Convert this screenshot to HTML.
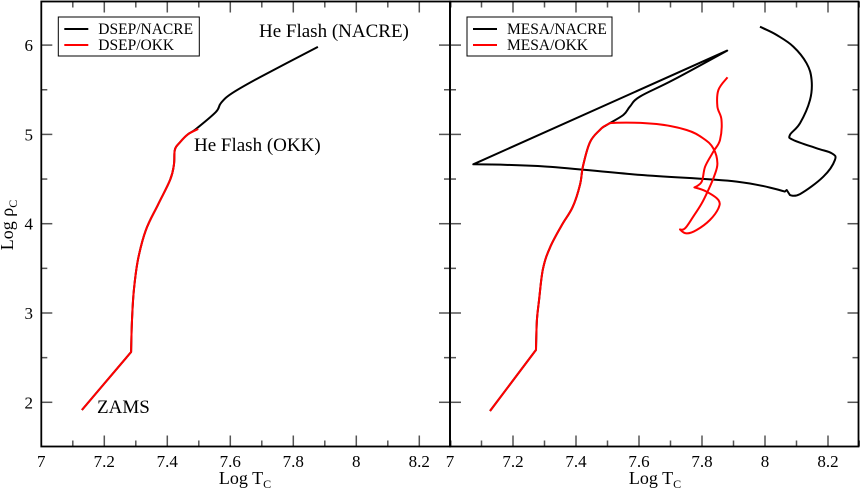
<!DOCTYPE html>
<html><head><meta charset="utf-8"><style>
body{margin:0;background:#fff}
svg{display:block}
text{font-family:"Liberation Serif","DejaVu Serif",serif;fill:#000}
</style></head><body>
<svg id="chart" width="860" height="492" viewBox="0 0 860 492" xmlns="http://www.w3.org/2000/svg">
<rect x="0" y="0" width="860" height="492" fill="#fff"/>
<g id="left"></g>
<g id="right"></g>
<text x="13" y="225" font-size="18" transform="rotate(-90 13 225)" text-anchor="middle">Log ρ<tspan font-size="12" dy="4">C</tspan></text>
<text x="245" y="484" font-size="18" text-anchor="middle">Log T<tspan font-size="12" dy="4">C</tspan></text>
<text x="655" y="484" font-size="18" text-anchor="middle">Log T<tspan font-size="12" dy="4">C</tspan></text>
<text x="259" y="37" font-size="19">He Flash (NACRE)</text>
<text x="194" y="151" font-size="19">He Flash (OKK)</text>
<text x="97" y="413" font-size="19">ZAMS</text>
</svg>
<script>
const xTicks=[7,7.2,7.4,7.6,7.8,8,8.2];
const yTicks=[2,3,4,5,6];
const dsepNacreT=[7.129,7.285,7.288,7.294,7.307,7.332,7.370,7.409,7.421,7.424,7.440,7.465,7.491,7.554,7.570,7.605,7.694,7.878];
const dsepNacreRho=[1.914,2.563,2.92,3.26,3.60,3.93,4.21,4.49,4.66,4.83,4.91,5.00,5.06,5.25,5.35,5.46,5.64,5.98];
const dsepOkkT=[7.129,7.285,7.288,7.294,7.307,7.332,7.370,7.409,7.421,7.424,7.440,7.465,7.498];
const dsepOkkRho=[1.914,2.563,2.92,3.26,3.60,3.93,4.21,4.49,4.66,4.83,4.91,5.00,5.06];
const mesaMsT=[7.127,7.273,7.276,7.283,7.295,7.317,7.356,7.390,7.413,7.422,7.444,7.476,7.497];
const mesaMsRho=[1.903,2.587,2.92,3.15,3.49,3.73,3.99,4.19,4.44,4.64,4.91,5.05,5.105];
const mesaNacreT=[7.550,7.571,7.603,7.709,7.880,7.074,7.307,7.603,7.910,8.063,8.069,8.079,8.111,8.185,8.222,8.212,8.164,8.090,8.079,8.111,8.143,8.148,8.132,8.090,8.037,7.995,7.984];
const mesaNacreRho=[5.217,5.311,5.423,5.610,5.938,4.665,4.639,4.546,4.471,4.359,4.377,4.321,4.332,4.526,4.713,4.788,4.844,4.937,4.993,5.124,5.385,5.609,5.796,5.983,6.113,6.188,6.206];
const mesaOkkT=[7.529,7.656,7.751,7.804,7.836,7.849,7.838,7.820,7.799,7.772,7.746,7.730,7.751,7.783,7.825,7.852,7.852,7.815,7.776,7.799,7.810,7.836,7.857,7.862,7.849,7.852,7.881];
const mesaOkkRho=[5.131,5.116,5.049,4.955,4.843,4.675,4.526,4.377,4.227,4.078,3.947,3.936,3.891,3.929,4.041,4.171,4.265,4.358,4.407,4.470,4.638,4.806,4.937,5.161,5.311,5.497,5.639];

const NS='http://www.w3.org/2000/svg';
const TOP=1.5,BOT=446.5,PX=315;
function yS(v){return 402.3-(v-2)*89.3;}
function mk(t,a){const e=document.createElementNS(NS,t);for(const k in a)e.setAttribute(k,a[k]);return e;}
function smoothPath(P,sharp){
  let d='M'+P[0][0].toFixed(1)+' '+P[0][1].toFixed(1);
  for(let i=0;i<P.length-1;i++){
    const p0=P[Math.max(i-1,0)],p1=P[i],p2=P[i+1],p3=P[Math.min(i+2,P.length-1)];
    const k=0.18;
    const s1=sharp.has(i)?0:k, s2=sharp.has(i+1)?0:k;
    const c1=[p1[0]+(p2[0]-p0[0])*s1,p1[1]+(p2[1]-p0[1])*s1];
    const c2=[p2[0]-(p3[0]-p1[0])*s2,p2[1]-(p3[1]-p1[1])*s2];
    d+=' C'+c1[0].toFixed(1)+' '+c1[1].toFixed(1)+' '+c2[0].toFixed(1)+' '+c2[1].toFixed(1)+' '+p2[0].toFixed(1)+' '+p2[1].toFixed(1);
  }
  return d;
}
function panel(g,x0,x1,series,legend,name){
  const xS=v=>x0+(v-7)*PX;
  for(let v=7.1;v<8.3;v+=0.1){
    const x=xS(v);const major=Math.abs(v*10-Math.round(v*5)*2)<0.01;
    const L=major?11:6;
    const t1=mk('line',{x1:x,x2:x,y1:BOT,y2:BOT-L,stroke:'#555','stroke-width':1.5});
    
    
    g.appendChild(t1);
    const t2=mk('line',{x1:x,x2:x,y1:TOP,y2:TOP+L,stroke:'#555','stroke-width':1.5});
    
    
    g.appendChild(t2);
  }
  for(let v=2;v<=6.01;v+=0.5){
    const y=yS(v);const L=(Math.abs(v-Math.round(v))<0.01)?11:6;
    const a=mk('line',{x1:x0,x2:x0+L,y1:y,y2:y,stroke:'#555','stroke-width':1.5});
    
    
    g.appendChild(a);
    const b=mk('line',{x1:x1,x2:x1-L,y1:y,y2:y,stroke:'#555','stroke-width':1.5});
    
    
    g.appendChild(b);
  }
  xTicks.forEach(v=>{
    const t=mk('text',{x:xS(v),y:467,'font-size':17,'text-anchor':'middle'});t.textContent=String(v);
    
    
    g.appendChild(t);
  });
  if(name==='dsep'){
    yTicks.forEach(v=>{
      const t=mk('text',{x:33,y:yS(v)+6,'font-size':17,'text-anchor':'end'});t.textContent=String(v);
      
      
      g.appendChild(t);
    });
  }
  series.forEach(s=>{
    const P=s.T.map((t,i)=>[xS(t),yS(s.R[i])]);
    const p=mk('path',{d:smoothPath(P,s.sharp||new Set()),fill:'none',stroke:s.c,'stroke-width':2,'stroke-linejoin':'round'});
    
    
    g.appendChild(p);
  });
  const fr=mk('rect',{x:x0,y:TOP,width:x1-x0,height:BOT-TOP,fill:'none',stroke:'#000','stroke-width':1.8});
  
  
  g.appendChild(fr);
  const lx=x0+17;
  const lg=mk('g',{});
  
  
  lg.appendChild(mk('rect',{x:lx,y:17,width:legend.w,height:39,fill:'#fff',stroke:'#000','stroke-width':1}));
  legend.items.forEach((it,i)=>{
    const y=29+i*16;
    lg.appendChild(mk('line',{x1:lx+6,x2:lx+30,y1:y,y2:y,stroke:it.c,'stroke-width':2}));
    const t=mk('text',{x:lx+40,y:y+5,'font-size':15.5});t.textContent=it.t;
    
    
    lg.appendChild(t);
  });
  g.appendChild(lg);
}
const ms=mesaMsT.length;
panel(document.getElementById('left'),41.3,450,[
  {T:dsepNacreT,R:dsepNacreRho,c:'#000',n:'dsep-nacre-line',sharp:new Set([1])},
  {T:dsepOkkT,R:dsepOkkRho,c:'#f00',n:'dsep-okk-line',sharp:new Set([1])}],
  {w:141,items:[{c:'#000',t:'DSEP/NACRE'},{c:'#f00',t:'DSEP/OKK'}]},'dsep');
panel(document.getElementById('right'),450,858.5,[
  {T:mesaMsT.concat(mesaNacreT),R:mesaMsRho.concat(mesaNacreRho),c:'#000',n:'mesa-nacre-line',sharp:new Set([1,ms+4,ms+5,ms+9,ms+10,ms+11])},
  {T:mesaMsT.concat(mesaOkkT),R:mesaMsRho.concat(mesaOkkRho),c:'#f00',n:'mesa-okk-line',sharp:new Set([1,ms+11,ms+18])}],
  {w:145,items:[{c:'#000',t:'MESA/NACRE'},{c:'#f00',t:'MESA/OKK'}]},'mesa');
</script>
</body></html>
